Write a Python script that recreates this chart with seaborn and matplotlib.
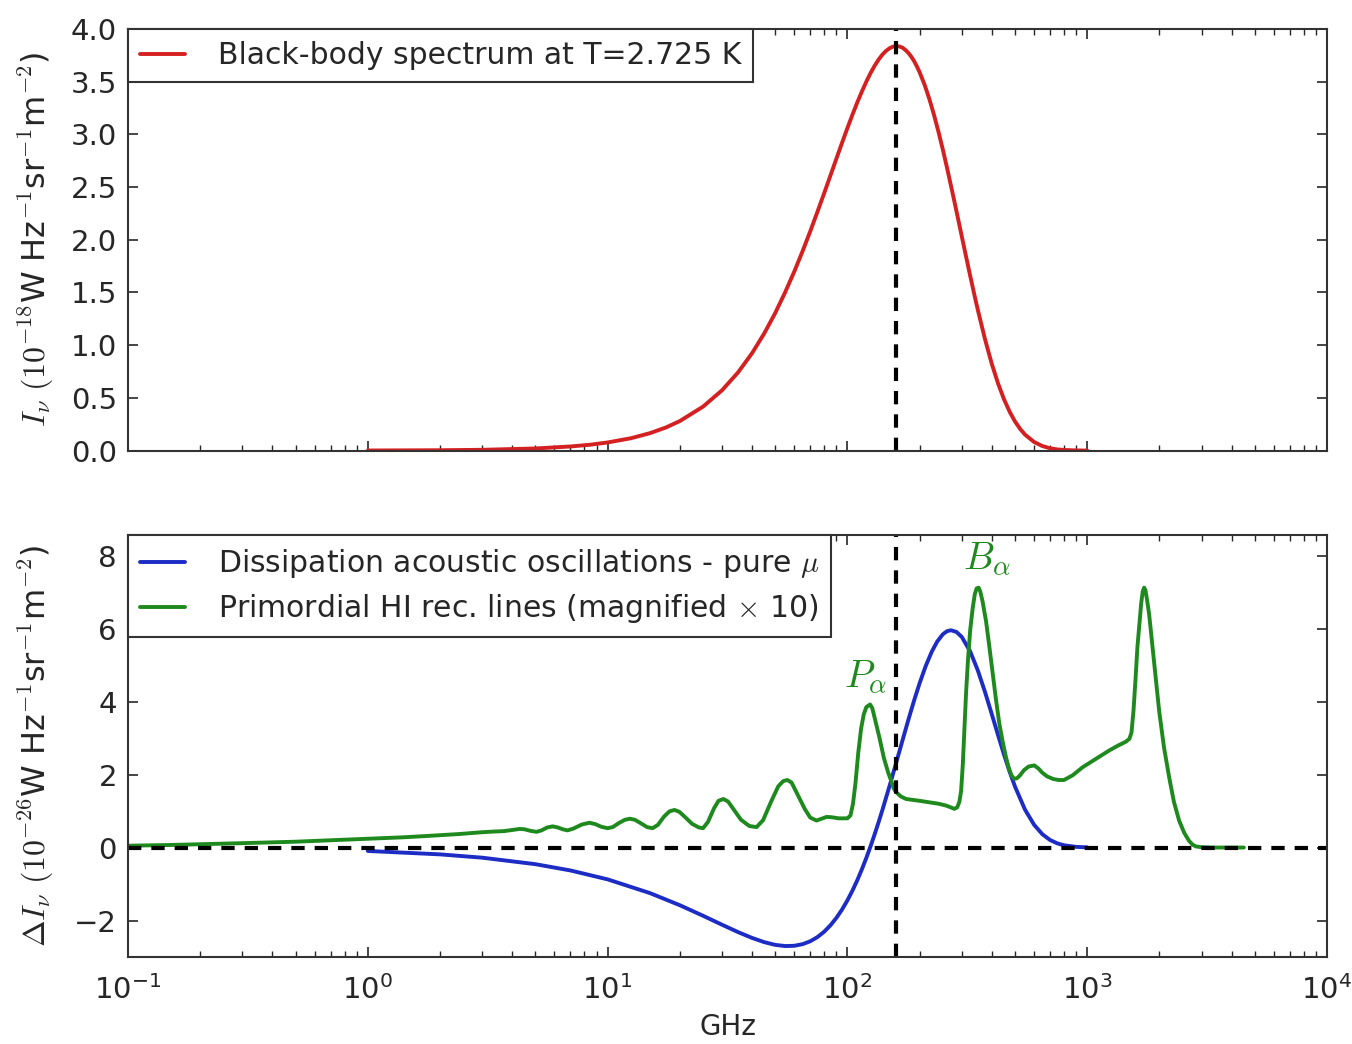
import matplotlib
matplotlib.use("Agg")
import matplotlib.pyplot as plt
import seaborn as sns

# Black-body spectrum, T = 2.725 K (units of 1e-18 W Hz^-1 sr^-1 m^-2)
bb_freq = [1, 2, 3, 5, 7, 8.5, 10, 12.5, 15, 17.5, 20, 25, 30, 35, 40, 45, 50, 55,
           60, 65, 70, 75, 80, 85, 90, 95, 100, 105, 110, 115, 120, 125, 130, 135,
           140, 145, 150, 155, 160, 165, 170, 175, 180, 185, 190, 195, 200, 210,
           220, 230, 240, 250, 260, 275, 285, 300, 310, 325, 340, 350, 375, 400,
           425, 450, 475, 500, 525, 550, 600, 650, 700, 750, 800, 900, 1000]
bb_intensity = [0.0008, 0.0033, 0.0073, 0.020, 0.039, 0.056, 0.077, 0.117, 0.165,
                0.219, 0.280, 0.417, 0.572, 0.742, 0.923, 1.112, 1.305, 1.502,
                1.697, 1.891, 2.081, 2.266, 2.442, 2.611, 2.771, 2.921, 3.060,
                3.188, 3.305, 3.409, 3.502, 3.584, 3.653, 3.711, 3.758, 3.793,
                3.818, 3.833, 3.838, 3.834, 3.822, 3.799, 3.771, 3.735, 3.693,
                3.644, 3.590, 3.469, 3.331, 3.180, 3.021, 2.856, 2.688, 2.436,
                2.271, 2.031, 1.878, 1.660, 1.458, 1.333, 1.055, 0.823, 0.636,
                0.486, 0.368, 0.276, 0.206, 0.152, 0.082, 0.043, 0.022, 0.011,
                0.006, 0.0014, 0.0003]

# Dissipation of acoustic oscillations, pure mu (units of 1e-26)
mu_freq = [1, 2, 3, 5, 7, 10, 15, 20, 25, 30, 35, 40, 45, 50, 55, 60, 65, 70, 75,
           80, 85, 90, 95, 100, 105, 110, 115, 120, 125, 130, 135, 140, 150, 160,
           170, 180, 190, 200, 212, 225, 237, 250, 260, 270, 285, 300, 325, 350,
           375, 400, 425, 450, 475, 500, 550, 600, 650, 700, 750, 800, 900, 1000]
mu_dI = [-0.094, -0.187, -0.278, -0.456, -0.628, -0.872, -1.247, -1.580, -1.869,
         -2.115, -2.317, -2.476, -2.592, -2.667, -2.699, -2.692, -2.648, -2.568,
         -2.453, -2.306, -2.129, -1.926, -1.698, -1.447, -1.178, -0.892, -0.591,
         -0.279, 0.042, 0.369, 0.700, 1.033, 1.695, 2.339, 2.953, 3.524, 4.042,
         4.501, 4.970, 5.372, 5.647, 5.843, 5.926, 5.954, 5.907, 5.769, 5.375,
         4.849, 4.258, 3.655, 3.077, 2.544, 2.075, 1.669, 1.042, 0.627, 0.365,
         0.207, 0.115, 0.062, 0.018, 0.005]

# Primordial HI recombination lines, magnified x10 (units of 1e-26)
rec_freq = [0.1, 0.15, 0.2, 0.3, 0.5, 0.7, 1.0, 1.4, 1.8, 2.4, 3.0, 3.4, 3.7, 4.0,
            4.3, 4.5, 4.75, 5.05, 5.3, 5.6, 5.9, 6.2, 6.5, 6.8, 7.2, 7.8, 8.4, 8.9,
            9.4, 10.0, 10.5, 11.2, 11.8, 12.4, 13.0, 13.8, 14.6, 15.4, 16.2, 17.2,
            18.1, 19.0, 19.9, 21.0, 22.5, 24.0, 25.0, 26.2, 27.8, 29.0, 30.4, 31.8,
            33.5, 36.0, 39.0, 41.8, 44.5, 48.0, 51.5, 54.0, 56.2, 58.5, 62.0, 66.5,
            70.0, 74.3, 78.0, 82.0, 86.0, 92.0, 100.0, 103.0, 105.5, 108.0, 111.0,
            114.0, 117.0, 120.0, 124.3, 127.0, 130.5, 135.9, 142.0, 148.0, 152.0,
            156.0, 159.6, 167.0, 175.7, 200.0, 219.6, 240.0, 257.9, 270.0, 279.0,
            287.0, 293.0, 298.0, 303.0, 308.0, 312.4, 318.0, 325.0, 332.9, 340.0,
            346.0, 352.5, 358.0, 366.0, 378.6, 390.0, 403.0, 416.9, 430.0, 444.0,
            458.6, 470.0, 483.0, 496.5, 510.0, 525.0, 545.0, 570.0, 601.6, 625.0,
            650.0, 680.0, 720.0, 760.0, 800.0, 870.0, 957.0, 1100.0, 1236.0, 1350.0,
            1450.0, 1500.0, 1530.0, 1560.0, 1590.0, 1620.0, 1648.0, 1680.0, 1705.0,
            1728.0, 1750.0, 1775.0, 1812.0, 1900.0, 1995.0, 2090.0, 2196.0, 2300.0,
            2417.0, 2540.0, 2661.0, 2750.0, 2840.0, 3000.0, 3300.0, 4500.0]
rec_dI = [0.05, 0.07, 0.09, 0.12, 0.16, 0.20, 0.24, 0.28, 0.32, 0.37, 0.42, 0.44,
          0.45, 0.48, 0.51, 0.50, 0.46, 0.43, 0.47, 0.55, 0.58, 0.55, 0.50, 0.47,
          0.52, 0.63, 0.68, 0.64, 0.57, 0.53, 0.56, 0.68, 0.76, 0.79, 0.76, 0.66,
          0.56, 0.53, 0.62, 0.85, 0.99, 1.03, 0.98, 0.84, 0.65, 0.55, 0.53, 0.70,
          1.08, 1.28, 1.33, 1.26, 1.05, 0.76, 0.59, 0.56, 0.75, 1.25, 1.68, 1.82,
          1.85, 1.78, 1.45, 1.05, 0.82, 0.74, 0.79, 0.84, 0.83, 0.80, 0.80, 0.88,
          1.20, 1.75, 2.60, 3.25, 3.65, 3.85, 3.92, 3.82, 3.50, 3.02, 2.45, 2.05,
          1.84, 1.62, 1.52, 1.40, 1.33, 1.28, 1.24, 1.20, 1.15, 1.10, 1.06, 1.10,
          1.25, 1.55, 2.30, 3.30, 4.22, 5.10, 5.95, 6.55, 6.95, 7.10, 7.12, 7.02,
          6.75, 6.20, 5.55, 4.80, 4.03, 3.40, 2.90, 2.47, 2.20, 1.98, 1.88, 1.90,
          1.98, 2.12, 2.22, 2.25, 2.17, 2.05, 1.95, 1.88, 1.85, 1.85, 1.98, 2.20,
          2.45, 2.66, 2.80, 2.90, 2.98, 3.15, 3.75, 4.60, 5.50, 6.05, 6.70, 7.02,
          7.12, 7.05, 6.80, 6.40, 5.10, 3.75, 2.75, 1.93, 1.25, 0.74, 0.40, 0.18,
          0.08, 0.03, 0.01, 0.0, 0.0]

peak_freq = 160  # GHz, black-body peak

RED = "#d42020"
BLUE = "#1c2cc4"
GREEN = "#1e8a1e"

sns.set_style("ticks")
plt.rcParams["font.family"] = ["DejaVu Sans"]
plt.rcParams["mathtext.fontset"] = "cm"
plt.rcParams["axes.edgecolor"] = "#333333"
plt.rcParams["axes.linewidth"] = 1.5

fig, (ax1, ax2) = plt.subplots(2, 1, figsize=(13.52, 10.44), dpi=100, sharex=True)
fig.subplots_adjust(left=0.0947, right=0.9815, top=0.9722, bottom=0.0833, hspace=0.2014)

dash = (0, (3.2, 2.4))
lw = 2.8

# top panel
sns.lineplot(x=bb_freq, y=bb_intensity, ax=ax1, color=RED, lw=lw,
             label="Black-body spectrum at T=2.725 K")
ax1.axvline(peak_freq, color="k", lw=3, ls=dash)
ax1.set_xscale("log")
ax1.set_xlim(0.1, 1e4)
ax1.set_ylim(0, 4)
ax1.set_yticks([0, 0.5, 1, 1.5, 2, 2.5, 3, 3.5, 4])
ax1.set_yticklabels(["%.1f" % v for v in [0, 0.5, 1, 1.5, 2, 2.5, 3, 3.5, 4]])
ax1.set_ylabel(r"$I_\nu\ (10^{-18}$W Hz$^{-1}$sr$^{-1}$m$^{-2}$)", fontsize=23)

# bottom panel
sns.lineplot(x=mu_freq, y=mu_dI, ax=ax2, color=BLUE, lw=lw,
             label=r"Dissipation acoustic oscillations - pure $\mu$")
sns.lineplot(x=rec_freq, y=rec_dI, ax=ax2, color=GREEN, lw=lw,
             label=r"Primordial HI rec. lines (magnified $\times$ 10)")
ax2.axhline(0, color="k", lw=3, ls=dash)
ax2.axvline(peak_freq, color="k", lw=3, ls=dash)
ax2.set_ylim(-3, 8.55)
ax2.set_yticks([-2, 0, 2, 4, 6, 8])
ax2.set_ylabel(r"$\Delta I_\nu\ (10^{-26}$W Hz$^{-1}$sr$^{-1}$m$^{-2}$)", fontsize=23)
ax2.set_xlabel("GHz", fontsize=20, labelpad=6)

ax2.text(119, 4.66, r"$P_\alpha$", color=GREEN, fontsize=28, ha="center", va="center")
ax2.text(383, 7.9, r"$B_\alpha$", color=GREEN, fontsize=28, ha="center", va="center")

for ax in (ax1, ax2):
    ax.tick_params(which="both", direction="in", top=True, right=True, labelsize=21)
    ax.tick_params(which="major", length=7, width=1.2, pad=8)
    ax.tick_params(which="minor", length=4, width=1.0)
    ax.tick_params(axis="x", which="major", pad=13)
    ax.yaxis.set_label_coords(-0.06, 0.5)
    leg = ax.legend(loc="upper left", borderaxespad=0, fancybox=False, framealpha=1,
                    edgecolor="#333333", fontsize=21.5, handlelength=1.5,
                    handletextpad=1.1, labelspacing=0.4, borderpad=0.4)
    leg.get_frame().set_linewidth(1.5)

ax1.tick_params(labelbottom=False)

fig.savefig("out.png", dpi=100)
